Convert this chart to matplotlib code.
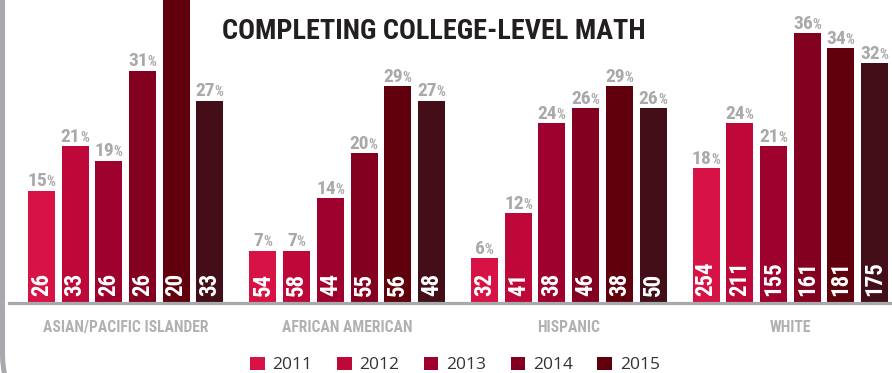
import matplotlib
matplotlib.use('Agg')
import matplotlib.pyplot as plt
from matplotlib import font_manager
from matplotlib.patches import Patch, FancyBboxPatch
from matplotlib.transforms import offset_copy, IdentityTransform

# ---------------- data ----------------
categories = ['ASIAN/PACIFIC ISLANDER', 'AFRICAN AMERICAN', 'HISPANIC', 'WHITE']
legend_years = ['2011', '2012', '2013', '2014', '2015']
asian_pct = [15, 21, 19, 31, 43, 27]
african_pct = [7, 7, 14, 20, 29, 27]
hispanic_pct = [6, 12, 24, 26, 29, 26]
white_pct = [18, 24, 21, 36, 34, 32]
asian_n = [26, 33, 26, 26, 20, 33]
african_n = [54, 58, 44, 55, 56, 48]
hispanic_n = [32, 41, 38, 46, 38, 50]
white_n = [254, 211, 155, 161, 181, 175]
title = 'COMPLETING COLLEGE-LEVEL MATH'

pct_groups = [asian_pct, african_pct, hispanic_pct, white_pct]
n_groups = [asian_n, african_n, hispanic_n, white_n]
colors = ['#d71244', '#bd0839', '#9f012e', '#830021', '#5f000c', '#430e17']

# ---------------- fonts ----------------
names = {f.name for f in font_manager.fontManager.ttflist}
cond_kw = {}
for cand in ['Liberation Sans Narrow', 'Roboto Condensed', 'DejaVu Sans Condensed']:
    if cand in names:
        cond_kw = {'family': cand}
        break
if not cond_kw:
    cond_kw = {'family': 'DejaVu Sans', 'stretch': 'condensed'}
leg_family = 'Open Sans' if 'Open Sans' in names else 'DejaVu Sans'

# ---------------- layout ----------------
W, H = 892, 373
fig = plt.figure(figsize=(W / 100, H / 100), dpi=100)
ax = fig.add_axes([0, 0, 1, 1])
ppu = 7.5            # pixels per percent
base_px = 303        # baseline from top
ymax = base_px / ppu
ax.set_xlim(0, W)
ax.set_ylim(-(H - base_px) / ppu, ymax)
ax.axis('off')

x0, gw, pitch, bw = 125.6, 221.6, 33.7, 27

renderer = fig.canvas.get_renderer()
gray_lbl = '#a9a9a9'

for g, (pcts, ns) in enumerate(zip(pct_groups, n_groups)):
    xs = [x0 + g * gw + (b - 2.5) * pitch for b in range(len(pcts))]
    ax.bar(xs, pcts, width=bw, color=colors[:len(pcts)], zorder=2)
    for b, (x, p, n) in enumerate(zip(xs, pcts, ns)):
        # count label inside bar
        ax.text(x, 0, str(n), rotation=90, ha='center', va='bottom',
                color='white', fontsize=16.5, fontweight='bold',
                transform=offset_copy(ax.transData, fig, y=7, units='dots'),
                zorder=3, **cond_kw)
        if p >= ymax:
            continue  # label lies outside the visible frame (cropped in reference)
        # percent label above bar
        t1 = ax.text(x, p, str(p), ha='left', va='baseline', color=gray_lbl,
                     fontsize=14, fontweight='bold', **cond_kw)
        t2 = ax.text(x, p, '%', ha='left', va='baseline', color=gray_lbl,
                     fontsize=10, fontweight='bold', **cond_kw)
        w1 = t1.get_window_extent(renderer).width
        w2 = t2.get_window_extent(renderer).width
        start = -(w1 + w2) / 2
        t1.set_transform(offset_copy(ax.transData, fig, x=start, y=4, units='dots'))
        t2.set_transform(offset_copy(ax.transData, fig, x=start + w1 - 0.5, y=4, units='dots'))

# baseline
ax.axhline(0, xmin=9 / W, xmax=1, color='#a7a9ac', lw=2.3, zorder=4)

# category labels (fit longest to reference width)
cat_texts = []
for g, c in enumerate(categories):
    t = ax.text(x0 + g * gw, -(332 - base_px) / ppu, c, ha='center', va='baseline',
                color='#b1b1b1', fontsize=13, fontweight='bold', **cond_kw)
    cat_texts.append(t)
w = cat_texts[0].get_window_extent(renderer).width
fs = 13 * 165 / w
for t in cat_texts:
    t.set_fontsize(fs)

# title
tt = ax.text(433.5, (base_px - 39) / ppu, title, ha='center', va='baseline',
             color='#231f20', fontsize=24, fontweight='bold', **cond_kw)
w = tt.get_window_extent(renderer).width
tt.set_fontsize(24 * 423 / w)

# left rounded frame
frame = FancyBboxPatch((2.5, -41), 3000, 3000, boxstyle='round,pad=0,rounding_size=60',
                       transform=IdentityTransform(), fill=False, edgecolor='#a7a9ac',
                       lw=3.6)
fig.add_artist(frame)

# legend
handles = [Patch(facecolor=colors[i], edgecolor='none') for i in range(len(legend_years))]
fig.legend(handles, legend_years, loc='center', bbox_to_anchor=(455 / W, 8 / H),
           ncol=5, frameon=False, handlelength=0.85, handleheight=0.85,
           handletextpad=0.45, columnspacing=1.4, borderpad=0,
           prop={'family': leg_family, 'size': 12.5}, labelcolor='#333333')

fig.savefig('out.png', dpi=100)
